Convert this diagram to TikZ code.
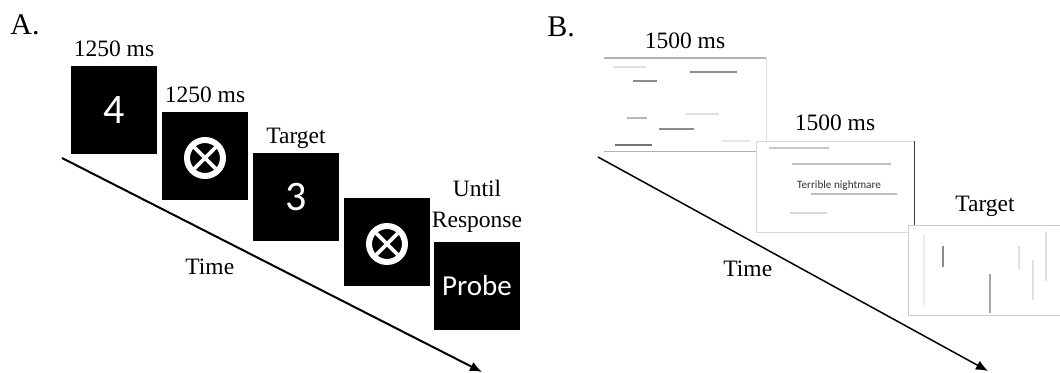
\documentclass[tikz,border=0pt]{standalone}
\usepackage{fontspec}
\setmainfont{Liberation Serif}
\newfontfamily\slidefont{Carlito}
\usetikzlibrary{positioning, arrows.meta, calc}
\tikzset{%
  blackbox/.style={fill=black, inner sep=0pt, minimum width=43pt, minimum height=44pt,
    text=white, font=\slidefont\fontsize{21}{21}\selectfont},
  maskbox/.style={blackbox, path picture={%
      \coordinate (mc) at ([yshift=#1]path picture bounding box.center);
      \draw[white, line width=3pt] (mc) circle[radius=9pt];
      \draw[white, line width=1.8pt] (mc) ++(45:7.6pt) -- ++(225:15.2pt);
      \draw[white, line width=1.8pt] (mc) ++(135:7.6pt) -- ++(-45:15.2pt);
    }},
  maskbox/.default=0pt,
  timelabel/.style={font=\fontsize{11.75}{15}\selectfont, inner sep=0pt, text height=8pt, text depth=0pt},
  panellabel/.style={font=\fontsize{15}{15}\selectfont, inner sep=0pt, anchor=base west},
  timeline/.style={-{Latex[length=6pt, width=5pt]}, line width=1pt},
  screen/.style={fill=white, inner sep=0pt}, % the word screens of panel B
  cue/.style={line width=0.7pt}
}

\begin{document}
\begin{tikzpicture}[x=0.5pt, y=-0.5pt]
\useasboundingbox (0,0) rectangle (1060,373);

% panel A
\node[panellabel] (pA) at (10,35) {A.};

\coordinate (tA0) at (62,158);
\coordinate (tA1) at (482,372);
\draw[timeline] (tA0) -- (tA1);
\node[timelabel, anchor=base west] (timeA) at (185,275) {Time};

\node[blackbox] (a0) at (114,110) {4};
\node[maskbox=-1pt] (a1) at (205,156) {};
\node[blackbox] (a2) at (296,197) {3};
\node[maskbox=-1pt] (a3) at (387,242) {};
\node[blackbox, font=\slidefont\fontsize{14.5}{14.5}\selectfont] (a4) at (477,286) {Probe};

\node[timelabel, above=4.5pt of a0] (l0) {1250 ms};
\node[timelabel, above=4.5pt of a1] (l1) {1250 ms};
\node[timelabel, above=4.5pt of a2] (l2) {Target};
\node[timelabel, above=7pt of a4] (l4) {Response};
\node[timelabel, above=7pt of l4] (l3) {Until};

% panel B
\node[panellabel] (pB) at (547,37) {B.};

\coordinate (tB0) at (598,157);
\coordinate (tB1) at (988,371);
\draw[timeline, line width=0.75pt] (tB0) -- (tB1);
\node[timelabel, anchor=base west] (timeB) at (723,277) {Time};

\node[screen, minimum width=81pt, minimum height=46.5pt] (b0) at (685,104.5) {};
\draw[black!30, line width=1pt] (b0.north west) -- (b0.north east);
\draw[black!12, line width=0.5pt] (b0.north east) -- (b0.south east);
\draw[black!30, line width=0.6pt] (b0.south west) -- (b0.south east);
\draw[cue, black!12] (613,67) -- (646,67);
\draw[cue, black!45] (690,72) -- (737,72);
\draw[cue, black!45] (633,81) -- (657,81);
\draw[cue, black!28] (627,118) -- (647,118);
\draw[cue, black!12] (686,114) -- (719,114);
\draw[cue, black!45] (659,129) -- (694,129);
\draw[cue, black!55] (615,145) -- (652,145);
\draw[cue, black!10] (722,141) -- (750,141);

\node[screen, draw=black!15, line width=0.5pt, minimum width=79pt, minimum height=45.5pt] (b1) at (835,187.5) {};
\draw[black!75, line width=0.8pt] (b1.north east) -- (b1.south east);
\draw[cue, black!22] (769,148) -- (829,148);
\draw[cue, black!25] (792,164) -- (891,164);
\draw[cue, black!25] (811,194) -- (897,194);
\draw[cue, black!15] (790,213) -- (827,213);
\node[font=\slidefont\fontsize{5.6}{6}\selectfont, text=black!80, inner sep=0pt] (w1) at (839,186) {Terrible nightmare};
\node[timelabel, above=5.5pt of b1] (m1) {1500 ms};
\node[timelabel, above=4.5pt of b0] (m0) {1500 ms};

\node[screen, draw=black!20, line width=0.5pt, minimum width=77pt, minimum height=45pt] (b2) at (985,271) {};
\draw[cue, black!8] (924,235) -- (924,306);
\draw[cue, black!45, line width=1pt] (943,246) -- (943,267);
\draw[cue, black!35] (990,274) -- (990,313);
\draw[cue, black!12] (1019,246) -- (1019,269);
\draw[cue, black!12] (1033,260) -- (1033,300);
\draw[cue, black!12] (1046,232) -- (1046,281);
\node[timelabel, above=6.75pt of b2] (m2) {Target};

\end{tikzpicture}
\end{document}
